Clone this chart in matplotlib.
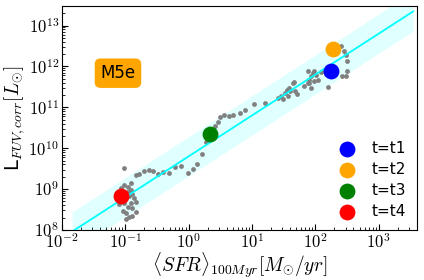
import numpy as np
import matplotlib
matplotlib.use("Agg")
import matplotlib.pyplot as plt
from matplotlib.ticker import FuncFormatter, LogLocator

plt.rcParams['mathtext.fontset'] = 'cm'

# grey scatter: SFR averaged over 100 Myr [Msun/yr], corrected FUV luminosity [Lsun]
sfr_grey = [0.094, 0.147, 0.166, 0.198, 0.237, 0.274, 0.331, 0.393, 0.487, 0.62,
            0.77, 0.975, 1.17, 1.38, 1.61, 1.86, 2.61, 2.94, 3.16, 3.56,
            4.27, 5.1, 6.5, 7.8, 10.9, 16, 25.7, 29.1, 30.8, 32.8,
            35.6, 38.3, 39.3, 44.2, 36.9, 51, 47, 67, 76, 80.5,
            85.7, 90.7, 96, 102, 109, 85.7, 76, 123, 138, 147,
            161, 252, 284, 308, 320, 320, 302, 267, 95, 79, 46,
            0.0858, 0.0964, 0.1087, 0.1228, 0.093, 0.1087, 0.1228, 0.130, 0.0908, 0.1026,
            0.1155, 0.138, 0.147, 0.0964, 0.1228, 0.1087, 0.127, 0.0908, 0.1026, 0.1127,
            0.1026, 0.130, 0.150, 0.0858, 0.0805]
lfuv_grey = [3.25e9, 2.23e9, 2.32e9, 2.84e9, 2.96e9, 2.79e9, 2.32e9, 2.6e9, 2.45e9, 3.56e9,
             3.7e9, 2.54e9, 3.13e9, 4.07e9, 7.2e9, 1.41e10, 3.4e10, 4.26e10, 5.8e10, 6.6e10,
             6.2e10, 6.6e10, 7.25e10, 8.7e10, 1.2e11, 1.27e11, 1.69e11, 1.85e11, 1.6e11, 2.24e11,
             2.7e11, 2.97e11, 2.45e11, 3.95e11, 1.85e11, 2.12e11, 2.45e11, 3.4e11, 3.95e11, 4.75e11,
             5.7e11, 6.9e11, 7.6e11, 6.3e11, 4.75e11, 2.97e11, 7.9e11, 7.2e11, 7.9e11, 6.6e11,
             3.2e11, 3.24e12, 2.34e12, 1.95e12, 1.33e12, 7.9e11, 5.96e11, 5.96e11, 4.3e11, 4.0e11, 4.1e11,
             1.05e9, 1.27e9, 1.15e9, 1.44e9, 8.7e8, 8.7e8, 9.55e8, 7.6e8, 6.55e8, 5.98e8,
             6.8e8, 5.98e8, 4.94e8, 4.5e8, 4.5e8, 3.72e8, 3.4e8, 2.93e8, 2.65e8, 2.12e8,
             1.83e8, 2.2e8, 2.81e8, 5.43e8, 4.27e8]

# highlighted snapshots
snap_labels = ['t=t1', 't=t2', 't=t3', 't=t4']
snap_colors = ['blue', 'orange', 'green', 'red']
snap_sfr = [178, 190, 2.2, 0.087]
snap_lfuv = [7.9e11, 2.6e12, 2.2e10, 6.8e8]

# calibration relation L_FUV = SFR / k, with scatter band
fit_sfr_range = [0.0145, 3500]
fit_norm = 10 ** 9.8
band_dex = 0.48

fig = plt.figure(figsize=(4.24, 2.8), dpi=100)
ax = fig.add_axes([0.146, 0.1786, 0.837, 0.80])

xf = np.logspace(np.log10(fit_sfr_range[0]), np.log10(fit_sfr_range[1]), 100)
yf = fit_norm * xf
ax.fill_between(xf, yf / 10 ** band_dex, yf * 10 ** band_dex, color='cyan', alpha=0.12, lw=0, zorder=1)
ax.plot(xf, yf, color='cyan', lw=1.3, zorder=3)

ax.scatter(sfr_grey, lfuv_grey, s=12, color='gray', lw=0, zorder=2)

for lab, c, x, y in zip(snap_labels, snap_colors, snap_sfr, snap_lfuv):
    ax.scatter([x], [y], s=130, color=c, lw=0, zorder=4, label=lab)

ax.set_xscale('log')
ax.set_yscale('log')
ax.set_xlim(0.01, 4000)
ax.set_ylim(1e8, 3e13)

fmt = FuncFormatter(lambda v, p: r'$10^{%d}$' % int(round(np.log10(v))))
ax.xaxis.set_major_formatter(fmt)
ax.yaxis.set_major_formatter(fmt)
ax.xaxis.set_major_locator(LogLocator(base=10, numticks=20))
ax.yaxis.set_major_locator(LogLocator(base=10, numticks=20))
ax.xaxis.set_minor_locator(LogLocator(base=10, subs=np.arange(2, 10), numticks=20))
ax.yaxis.set_minor_locator(LogLocator(base=10, subs=np.arange(2, 10), numticks=20))
ax.tick_params(which='both', direction='in', top=False, right=False, labelsize=12)
ax.tick_params(which='major', length=4, pad=2)
ax.tick_params(which='minor', length=2)

ax.set_xlabel(r'$\langle SFR\rangle_{100Myr}[M_{\odot}/yr]$', fontsize=14, labelpad=-1)
ax.set_ylabel(r'L$_{FUV,corr}[L_{\odot}]$', fontsize=14, labelpad=1)

ax.text(0.158, 0.70, 'M5e', transform=ax.transAxes, fontsize=12, ha='center', va='center',
        bbox=dict(boxstyle='round,pad=0.3', fc='orange', ec='orange'))

ax.legend(loc='lower right', frameon=False, fontsize=11, handletextpad=0.6,
          labelspacing=0.4, borderaxespad=0.3)

fig.savefig('out.png', dpi=100)
